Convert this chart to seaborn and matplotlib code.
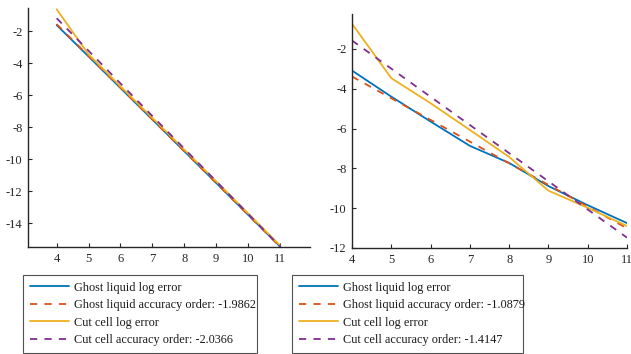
import matplotlib
matplotlib.use("Agg")
import matplotlib.pyplot as plt
import seaborn as sns
import pandas as pd

sns.set_theme(style="white")
plt.rcParams['font.family'] = ['Liberation Serif', 'DejaVu Serif']
plt.rcParams['axes.unicode_minus'] = False

x_levels = [4, 5, 6, 7, 8, 9, 10, 11]
fit_x = [4, 11]

# Left panel
ghost_left = [-1.62, -3.58, -5.55, -7.52, -9.50, -11.48, -13.47, -15.45]
cut_left = [-0.63, -3.45, -5.45, -7.42, -9.40, -11.38, -13.38, -15.38]
ghost_fit_left = [-1.56, -15.46]
cut_fit_left = [-1.19, -15.45]
order_ghost_left = "-1.9862"
order_cut_left = "-2.0366"

# Right panel
ghost_right = [-3.09, -4.40, -5.65, -6.87, -7.73, -8.89, -9.85, -10.75]
cut_right = [-0.74, -3.47, -4.73, -6.07, -7.43, -9.12, -9.98, -10.90]
ghost_fit_right = [-3.39, -11.01]
cut_fit_right = [-1.58, -11.48]
order_ghost_right = "-1.0879"
order_cut_right = "-1.4147"

BLUE = "#0072BD"
ORANGE = "#D95319"
YELLOW = "#EDB120"
PURPLE = "#7E2F8E"

fig = plt.figure(figsize=(6.31, 3.54), dpi=100)
axL = fig.add_axes([28/631, 1-247/354, 282/631, 239/354])
axR = fig.add_axes([352/631, 1-248/354, 275/631, 234/354])

def draw(ax, ghost, cut, gfit, cfit, og, oc):
    lw = 1.3
    sns.lineplot(x=x_levels, y=ghost, ax=ax, color=BLUE, lw=lw,
                 label="Ghost liquid log error")
    sns.lineplot(x=fit_x, y=gfit, ax=ax, color=ORANGE, lw=lw,
                 label=f"Ghost liquid accuracy order: {og}")
    sns.lineplot(x=x_levels, y=cut, ax=ax, color=YELLOW, lw=lw,
                 label="Cut cell log error")
    sns.lineplot(x=fit_x, y=cfit, ax=ax, color=PURPLE, lw=lw,
                 label=f"Cut cell accuracy order: {oc}")
    for ln in [ax.lines[1], ax.lines[3]]:
        ln.set_linestyle((0, (4, 4)))
    for s in ["top", "right"]:
        ax.spines[s].set_visible(False)
    for s in ["left", "bottom"]:
        ax.spines[s].set_color("#262626")
        ax.spines[s].set_linewidth(1.0)
    ax.tick_params(direction="in", length=3, width=0.8, colors="#262626",
                   labelsize=9, left=True, bottom=True, pad=4)
    ax.set_xticks(x_levels)

draw(axL, ghost_left, cut_left, ghost_fit_left, cut_fit_left,
     order_ghost_left, order_cut_left)
draw(axR, ghost_right, cut_right, ghost_fit_right, cut_fit_right,
     order_ghost_right, order_cut_right)

axL.set_xlim(3.1, 11.95)
axL.set_ylim(-15.5, -0.55)
axL.set_yticks([-14, -12, -10, -8, -6, -4, -2])
axR.set_xlim(4, 11)
axR.set_ylim(-12, -0.25)
axR.set_yticks([-12, -10, -8, -6, -4, -2])

def legend(ax, x0, x1):
    h, l = ax.get_legend_handles_labels()
    ax.get_legend().remove()
    lg = fig.legend(h, l, loc="upper left",
                    bbox_to_anchor=(x0/631, 1-353/354, (x1-x0)/631, 78/354),
                    mode="expand", frameon=True, fancybox=False,
                    fontsize=8.8, handlelength=3.2, handletextpad=0.45,
                    labelspacing=0.45, borderpad=0.55, borderaxespad=0)
    lg.get_frame().set_edgecolor("#262626")
    lg.get_frame().set_linewidth(0.8)
    for t in lg.get_texts():
        t.set_color("#1a1a1a")
    return lg

legend(axL, 23, 257)
legend(axR, 292, 523)

fig.savefig("out.png", dpi=100)
